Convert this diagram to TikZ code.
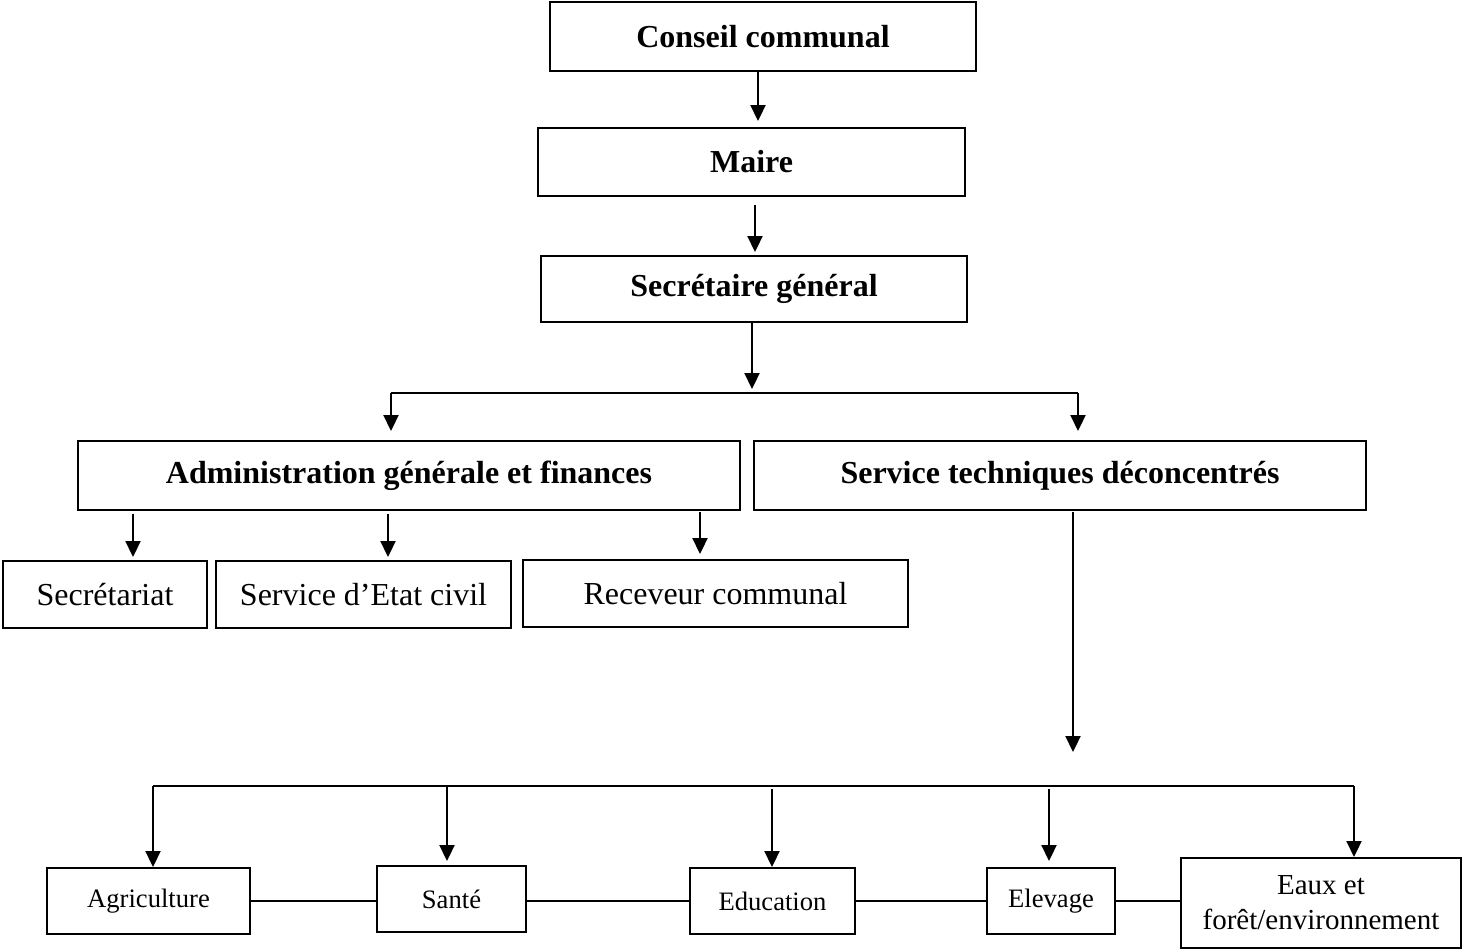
\documentclass[tikz,border=0pt]{standalone}
\usepackage{fontspec}
\setmainfont{Liberation Serif}
\usetikzlibrary{arrows.meta}
\begin{document}
\begin{tikzpicture}[x=0.5pt,y=-0.5pt,
 box/.style={draw,line width=1pt,inner sep=0pt,align=center,font=\fontsize{16}{19}\selectfont},
 bbox/.style={box,font=\fontsize{16}{19}\selectfont\bfseries},
 sbox/.style={box,font=\fontsize{13.3}{17.5}\selectfont},
 arr/.style={line width=1.1pt,-{Triangle[length=8pt,width=7.5pt]}},
 ln/.style={line width=1.1pt}]
\useasboundingbox (0,0) rectangle (1462,949);
% top chain
\node[bbox,minimum width=213pt,minimum height=34.5pt] (cc) at (763,36.5) {Conseil communal};
\node[bbox,minimum width=213.5pt,minimum height=34pt] (maire) at (751.5,162) {Maire};
\node[bbox,minimum width=213pt,minimum height=33pt] (sg) at (754,289) {Secrétaire général};
% level 2
\node[bbox,minimum width=331pt,minimum height=34.5pt] (adm) at (409,475.5) {Administration générale et finances};
\node[bbox,minimum width=306pt,minimum height=34.5pt] (stech) at (1060,475.5) {Service techniques déconcentrés};
% level 3
\node[box,minimum width=102pt,minimum height=33.5pt] (secr) at (105,594.5) {Secrétariat};
\node[box,minimum width=147.5pt,minimum height=33.5pt] (etat) at (363.5,594.5) {Service d’Etat civil};
\node[box,minimum width=192.5pt,minimum height=33.5pt] (recv) at (715.5,593.5) {Receveur communal};
% bottom row
\node[sbox,minimum width=101.5pt,minimum height=33pt] (agri) at (148.5,901) {Agriculture};
\node[sbox,minimum width=74.5pt,minimum height=33pt] (sante) at (451.5,899) {Santé};
\node[sbox,minimum width=82.5pt,minimum height=33pt] (educ) at (772.5,901) {Education};
\node[sbox,minimum width=64pt,minimum height=33pt] (elev) at (1051,901) {Elevage};
\node[box,font=\fontsize{14.5}{17.5}\selectfont,minimum width=140pt,minimum height=45pt] (eaux) at (1321,903) {Eaux et\\forêt/environnement};
% coordinates
\coordinate (c1) at (758,71);
\coordinate (c2) at (755,196);
\coordinate (c3) at (752,322);
\coordinate (j1) at (752,393);
\coordinate (hl) at (391,393);
\coordinate (hr) at (1078,393);
\coordinate (a1) at (133,510);
\coordinate (a2) at (388,510);
\coordinate (a3) at (700,510);
\coordinate (t1) at (1073,510);
\coordinate (t2) at (1073,752);
\coordinate (bl) at (153,786);
\coordinate (br) at (1354,786);
\coordinate (b2) at (447,786);
\coordinate (b3) at (772,786);
\coordinate (b4) at (1049,786);
% connectors
\draw[arr,shorten >=3pt] (c1) -- (c1 |- maire.north);
\draw[arr,shorten <=4.5pt,shorten >=1.5pt] (c2) -- (c2 |- sg.north);
\draw[arr,shorten >=2pt] (c3) -- (j1);
\draw[ln] (hl) -- (hr);
\draw[arr,shorten >=4.5pt] (hl) -- (hl |- adm.north);
\draw[arr,shorten >=4.5pt] (hr) -- (hr |- stech.north);
\draw[arr,shorten <=2pt,shorten >=1.5pt] (a1) -- (a1 |- secr.north);
\draw[arr,shorten <=2pt,shorten >=1.5pt] (a2) -- (a2 |- etat.north);
\draw[arr,shorten <=1pt,shorten >=2.5pt] (a3) -- (a3 |- recv.north);
\draw[arr,shorten <=1pt] (t1) -- (t2);
\draw[ln] (bl) -- (br);
\draw[arr] (bl) -- (bl |- agri.north);
\draw[arr,shorten >=2pt] (b2) -- (b2 |- sante.north);
\draw[arr,shorten <=1.5pt] (b3) -- (b3 |- educ.north);
\draw[arr,shorten <=1.5pt,shorten >=3pt] (b4) -- (b4 |- elev.north);
\draw[arr] (br) -- (br |- eaux.north);
\draw[ln] (agri.east) -- (agri.east -| sante.west);
\draw[ln] (sante.east |- educ.east) -- (educ.west);
\draw[ln] (educ.east) -- (elev.west);
\draw[ln] (elev.east) -- (elev.east -| eaux.west);
\end{tikzpicture}
\end{document}
